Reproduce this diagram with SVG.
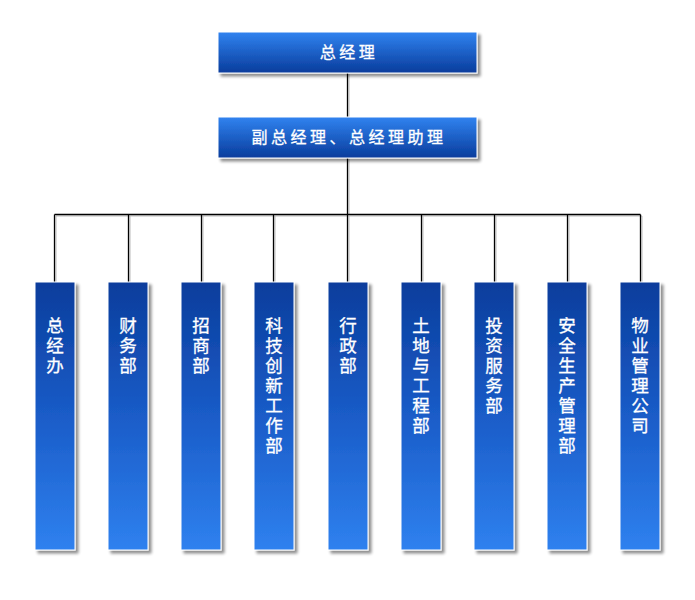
<svg xmlns="http://www.w3.org/2000/svg" width="695" height="600" viewBox="0 0 695 600">
<defs>
<linearGradient id="gTop" x1="0" y1="0" x2="0" y2="1">
<stop offset="0" stop-color="#3183f0"/>
<stop offset="1" stop-color="#083c9c"/>
</linearGradient>
<linearGradient id="gCol" x1="0" y1="0" x2="0" y2="1">
<stop offset="0" stop-color="#0a3d9c"/>
<stop offset="0.5" stop-color="#1a5cc8"/>
<stop offset="1" stop-color="#2f81ef"/>
</linearGradient>
<filter id="sh" x="-20%" y="-10%" width="150%" height="130%">
<feGaussianBlur in="SourceAlpha" stdDeviation="1.5"/>
<feOffset dx="3" dy="3" result="b"/>
<feComponentTransfer><feFuncA type="linear" slope="0.45"/></feComponentTransfer>
<feMerge><feMergeNode/><feMergeNode in="SourceGraphic"/></feMerge>
</filter>
</defs>
<style>
.box{stroke:#ffffff;stroke-width:1;filter:url(#sh)}
.top{fill:url(#gTop)}
.col{fill:url(#gCol)}
.t{fill:#ffffff;stroke:#ffffff;stroke-width:0.3;font-family:"Noto Sans CJK SC","Liberation Sans",sans-serif;font-size:16px;letter-spacing:3.5px;text-anchor:middle}
.v{fill:#ffffff;stroke:#ffffff;stroke-width:0.3;font-family:"Noto Sans CJK SC","Liberation Sans",sans-serif;font-size:17.5px;text-anchor:middle}
.ln{stroke:#000;stroke-width:1.3;fill:none}
.lns{stroke:#bbbbbb;stroke-width:1;fill:none}
</style>
<rect width="695" height="600" fill="#ffffff"/>
<g id="connectors">
<path class="lns" d="M349 74V117 M349 159V215 M56 216H642 M56 216V282 M130 216V282 M203 216V282 M275 216V282 M349 216V282 M423 216V282 M496 216V282 M569 216V282 M642 216V282"/>
<path class="ln" d="M347.5 73V117 M347.5 158V214.5 M54.5 214.5H640.5 M54.5 214.5V282 M128.5 214.5V282 M201.5 214.5V282 M273.5 214.5V282 M347.5 214.5V282 M421.5 214.5V282 M494.5 214.5V282 M567.5 214.5V282 M640.5 214.5V282"/>
</g>
<g id="n-gm">
<rect class="box top" x="218" y="32" width="259" height="41"/>
<text class="t" x="349" y="58">总经理</text>
</g>
<g id="n-dgm">
<rect class="box top" x="218" y="117" width="259" height="41"/>
<text class="t" x="349" y="143">副总经理、总经理助理</text>
</g>
<g id="n1">
<rect class="box col" x="35" y="282" width="40" height="268"/>
<text class="v"><tspan x="55" y="331.5">总</tspan><tspan x="55" y="351.5">经</tspan><tspan x="55" y="371.5">办</tspan></text>
</g>
<g id="n2">
<rect class="box col" x="108" y="282" width="40" height="268"/>
<text class="v"><tspan x="128" y="331.5">财</tspan><tspan x="128" y="351.5">务</tspan><tspan x="128" y="371.5">部</tspan></text>
</g>
<g id="n3">
<rect class="box col" x="181" y="282" width="40" height="268"/>
<text class="v"><tspan x="201" y="331.5">招</tspan><tspan x="201" y="351.5">商</tspan><tspan x="201" y="371.5">部</tspan></text>
</g>
<g id="n4">
<rect class="box col" x="254" y="282" width="40" height="268"/>
<text class="v"><tspan x="274" y="331.5">科</tspan><tspan x="274" y="351.5">技</tspan><tspan x="274" y="371.5">创</tspan><tspan x="274" y="391.5">新</tspan><tspan x="274" y="411.5">工</tspan><tspan x="274" y="431.5">作</tspan><tspan x="274" y="451.5">部</tspan></text>
</g>
<g id="n5">
<rect class="box col" x="328" y="282" width="40" height="268"/>
<text class="v"><tspan x="348" y="331.5">行</tspan><tspan x="348" y="351.5">政</tspan><tspan x="348" y="371.5">部</tspan></text>
</g>
<g id="n6">
<rect class="box col" x="401" y="282" width="40" height="268"/>
<text class="v"><tspan x="421" y="331.5">土</tspan><tspan x="421" y="351.5">地</tspan><tspan x="421" y="371.5">与</tspan><tspan x="421" y="391.5">工</tspan><tspan x="421" y="411.5">程</tspan><tspan x="421" y="431.5">部</tspan></text>
</g>
<g id="n7">
<rect class="box col" x="474" y="282" width="40" height="268"/>
<text class="v"><tspan x="494" y="331.5">投</tspan><tspan x="494" y="351.5">资</tspan><tspan x="494" y="371.5">服</tspan><tspan x="494" y="391.5">务</tspan><tspan x="494" y="411.5">部</tspan></text>
</g>
<g id="n8">
<rect class="box col" x="547" y="282" width="40" height="268"/>
<text class="v"><tspan x="567" y="331.5">安</tspan><tspan x="567" y="351.5">全</tspan><tspan x="567" y="371.5">生</tspan><tspan x="567" y="391.5">产</tspan><tspan x="567" y="411.5">管</tspan><tspan x="567" y="431.5">理</tspan><tspan x="567" y="451.5">部</tspan></text>
</g>
<g id="n9">
<rect class="box col" x="620" y="282" width="40" height="268"/>
<text class="v"><tspan x="640" y="331.5">物</tspan><tspan x="640" y="351.5">业</tspan><tspan x="640" y="371.5">管</tspan><tspan x="640" y="391.5">理</tspan><tspan x="640" y="411.5">公</tspan><tspan x="640" y="431.5">司</tspan></text>
</g>
</svg>
